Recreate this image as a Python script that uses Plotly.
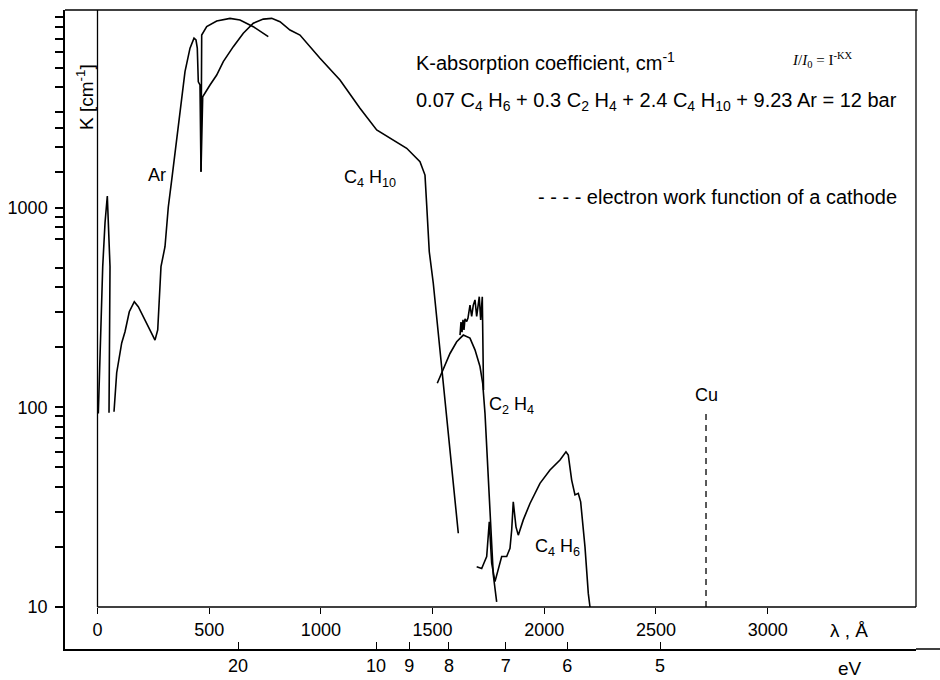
import plotly.graph_objects as go

# ---------------- data ----------------
# Ar: short-wavelength spike
ar_spike_wl = [3.6, 23.3, 33.6, 43.9, 56.0, 51.5]
ar_spike_k = [93, 506, 837, 1143, 506, 94]

# Ar: main curve
ar_wl = [73.9, 85.9, 108.3, 123.1, 142.3, 164.7, 182.6, 220.2, 257.4, 269.5, 284.2,
         302.1, 316.9, 332.1, 357.2, 369.3, 391.7, 414.1, 432.0, 440.9, 446.7, 451.2,
         458.8, 463.3, 466.4, 488.8, 533.6, 593.1, 637.9, 697.4, 764.5]
ar_k = [95, 149, 210, 239, 301, 338, 319, 264, 217, 244, 506,
        637, 1007, 1374, 2312, 3143, 4800, 6285, 7050, 6906, 6285, 4266,
        4111, 1513, 7311, 8054, 8590, 8865, 8695, 8054, 7180]

# C4H10
c4h10_wl = [463.3, 470.9, 503.6, 533.6, 563.1, 607.9, 652.6, 697.4, 742.2, 779.8, 816.9,
            861.7, 906.4, 996.0, 1085.5, 1175.0, 1249.8, 1309.3, 1384.1, 1443.6, 1466.0,
            1473.6, 1485.2, 1503.1, 1525.5, 1540.7, 1563.1, 1585.5, 1600.3, 1615.1]
c4h10_k = [1513, 3589, 4111, 4613, 5383, 6397, 7467, 8374, 8790, 8865, 8530,
           7745, 7311, 5596, 4355, 3143, 2448, 2224, 1982, 1698, 1455,
           1030, 601, 418, 235, 160, 89.8, 50.5, 34.3, 23.4]

# C2H4: smooth envelope
c2h4_wl = [1521.0, 1548.0, 1577.9, 1607.9, 1637.4, 1667.4, 1689.8, 1712.2, 1724.3,
           1734.6, 1742.2, 1749.3, 1756.9, 1764.5, 1771.7, 1786.9]
c2h4_k = [132, 154, 186, 213, 230, 222, 194, 160, 132,
          93.3, 63.5, 43.2, 29.4, 20.0, 14.5, 10.6]

# C2H4: vibrational band structure
c2h4_band_wl = [1622.7, 1627.2, 1631.7, 1636.1, 1640.6, 1645.1, 1652.7, 1658.5, 1667.4,
                1675.0, 1682.2, 1689.8, 1697.4, 1709.0, 1715.3, 1722.5, 1727.0, 1728.0]
c2h4_band_k = [230, 267, 238, 274, 244, 277, 269, 280, 325,
               285, 325, 345, 285, 358, 274, 358, 148, 122]

# C4H6
c4h6_wl = [1697.4, 1719.8, 1730.1, 1742.2, 1753.8, 1764.5, 1779.3, 1794.1, 1809.3,
           1831.7, 1846.5, 1854.1, 1861.2, 1873.3, 1883.6, 1906.0, 1936.0, 1980.7,
           2025.5, 2070.3, 2097.1, 2107.4, 2122.6, 2137.4, 2152.2, 2162.9, 2182.2,
           2197.0, 2204.6]
c4h6_k = [15.9, 15.6, 16.6, 17.9, 26.7, 16.6, 13.4, 15.3, 17.9,
          17.9, 19.7, 24.3, 33.6, 25.2, 22.9, 27.3, 33.0, 41.6,
          48.5, 54.5, 59.9, 57.7, 43.2, 36.4, 37.1, 33.6, 20.0,
          11.7, 10.0]

# Cu electron work function (dashed)
cu_wl = [2724, 2724]
cu_k = [10, 93.5]

# axis ticks
wl_ticks = [0, 500, 1000, 1500, 2000, 2500, 3000]
ev_labels = ["20", "10", "9", "8", "7", "6", "5"]
ev_tick_wl = [629, 1247, 1395, 1573, 1827, 2103, 2518]
k_major = [10, 100, 1000]
k_minor = [20, 30, 40, 50, 60, 70, 80, 90,
           200, 300, 400, 500, 700, 800, 900,
           1500, 2000, 2500, 3000, 4000, 5000, 6000, 7000, 8000, 9000]

# ---------------- layout helpers ----------------
W, H = 940, 680
L, R, T, B = 65, 916, 10, 649
XMIN, XMAX = -145.5, 3664
YLOG = [0.7897, 3.9895]
FONT = "Liberation Sans, Arial, Helvetica, sans-serif"


def px(xp):
    return (xp - L) / (R - L)


def py(yp):
    return (B - yp) / (B - T)


line = dict(color="black", width=1.6)

fig = go.Figure()
for xs, ys in [(ar_spike_wl, ar_spike_k), (ar_wl, ar_k), (c4h10_wl, c4h10_k),
               (c2h4_wl, c2h4_k), (c2h4_band_wl, c2h4_band_k), (c4h6_wl, c4h6_k)]:
    fig.add_trace(go.Scatter(x=xs, y=ys, mode="lines", line=line, showlegend=False,
                             hoverinfo="skip", cliponaxis=False))
fig.add_trace(go.Scatter(x=cu_wl, y=cu_k, mode="lines", showlegend=False,
                         line=dict(color="black", width=1.3, dash="6px,5px"), hoverinfo="skip"))
# invisible trace to activate the eV axis
fig.add_trace(go.Scatter(x=[XMIN, XMAX], y=[20, 20], xaxis="x2", mode="lines",
                         line=dict(width=0), showlegend=False, hoverinfo="skip"))

x_axis_pos = py(607)

fig.update_layout(
    width=W, height=H,
    margin=dict(l=L, r=W - R, t=T, b=H - B, pad=0, autoexpand=False),
    paper_bgcolor="white", plot_bgcolor="white",
    font=dict(family=FONT, size=18, color="black"),
    xaxis=dict(range=[XMIN, XMAX], tickvals=wl_ticks, ticktext=[str(v) for v in wl_ticks],
               anchor="free", position=x_axis_pos, ticks="outside", ticklen=6, tickwidth=1.4,
               tickcolor="black", showline=False, showgrid=False, zeroline=False,
               ticklabelstandoff=0, automargin=False, tickfont=dict(size=18)),
    xaxis2=dict(range=[XMIN, XMAX], overlaying="x", anchor="y", side="bottom",
                tickvals=ev_tick_wl, ticktext=ev_labels, ticks="inside", ticklen=7,
                tickwidth=1.4, tickcolor="black", showline=True, linecolor="black",
                linewidth=1.5, showgrid=False, zeroline=False, ticklabelstandoff=0,
                automargin=False, tickfont=dict(size=18)),
    yaxis=dict(type="log", range=YLOG, tickvals=k_major, ticktext=["10", "100", "1000"],
               ticks="outside", ticklen=8, tickwidth=1.5, tickcolor="black",
               minor=dict(tickvals=k_minor, ticks="outside", ticklen=8, tickwidth=1.5,
                          tickcolor="black", showgrid=False),
               showline=True, linecolor="black", linewidth=1.5, showgrid=False,
               zeroline=False, ticklabelstandoff=4, automargin=False, tickfont=dict(size=18)),
)

shapes = [
    # inner wavelength axis line
    dict(type="line", xref="x", yref="paper", x0=0, x1=XMAX, y0=x_axis_pos, y1=x_axis_pos,
         line=dict(color="black", width=1.5)),
    # inner left line at lambda = 0
    dict(type="line", xref="x", yref="paper", x0=0, x1=0, y0=x_axis_pos, y1=1,
         line=dict(color="black", width=1.3)),
    # right frame line
    dict(type="line", xref="paper", yref="paper", x0=1, x1=1, y0=x_axis_pos, y1=1,
         line=dict(color="black", width=1.3)),
    # top frame line
    dict(type="line", xref="paper", yref="paper", x0=0, x1=1.002, y0=1, y1=1,
         line=dict(color="black", width=1.6)),
    # bottom eV line extension
    dict(type="line", xref="paper", yref="paper", x0=1, x1=px(940), y0=0, y1=0,
         line=dict(color="black", width=1.5)),
]
fig.update_layout(shapes=shapes)


def ann(text, x, y, xanchor="center", size=18, angle=0, family=FONT):
    fig.add_annotation(text=text, x=px(x), y=py(y), xref="paper", yref="paper",
                       xanchor=xanchor, yanchor="middle", showarrow=False,
                       textangle=angle, font=dict(size=size, family=family, color="black"))


ann("Ar", 157, 175)
ann("C<sub>4</sub> H<sub>10</sub>", 370, 178)
ann("C<sub>2</sub> H<sub>4</sub>", 511, 405)
ann("C<sub>4</sub> H<sub>6</sub>", 557, 547)
ann("Cu", 706, 395)
ann("K-absorption coefficient, cm<sup>-1</sup>", 414, 62, xanchor="left", size=20)
ann("<i>I</i>/<i>I</i><sub>0</sub> = I<sup>-KX</sup>", 790, 60, xanchor="left", size=15,
    family="Liberation Serif, Times New Roman, serif")
ann("0.07 C<sub>4</sub> H<sub>6</sub> + 0.3 C<sub>2</sub> H<sub>4</sub> + 2.4 C<sub>4</sub> H<sub>10</sub>"
    " + 9.23 Ar = 12 bar", 414, 102, xanchor="left", size=20)
ann("- - - - electron work function of a cathode", 536, 197, xanchor="left", size=20)
ann("K [cm<sup>-1</sup>]", 85, 97, angle=-90, size=19)
ann("λ , Å", 849, 630, size=19)
ann("eV", 850, 668, size=19)

fig.write_html("out.html")
